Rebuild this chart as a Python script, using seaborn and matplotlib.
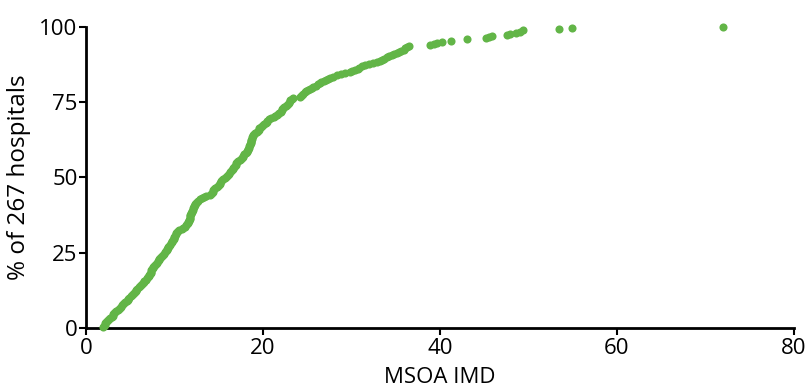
import numpy as np
import pandas as pd
import matplotlib
matplotlib.use("Agg")
import matplotlib.pyplot as plt
import seaborn as sns

# MSOA IMD of each hospital, sorted
imd_values = [
    1.9, 2.0, 2.1, 2.2, 2.3, 2.4, 2.5, 2.6, 2.7, 2.9,
    3.0, 3.1, 3.2, 3.3, 3.4, 3.6, 3.7, 3.8, 3.9, 4.1,
    4.2, 4.3, 4.4, 4.6, 4.7, 4.8, 4.9, 5.1, 5.2, 5.3,
    5.4, 5.5, 5.6, 5.7, 5.8, 6.0, 6.1, 6.2, 6.3, 6.4,
    6.5, 6.6, 6.8, 6.9, 7.0, 7.1, 7.1, 7.2, 7.3, 7.3,
    7.4, 7.5, 7.6, 7.6, 7.7, 7.8, 7.9, 8.0, 8.1, 8.2,
    8.3, 8.4, 8.5, 8.6, 8.7, 8.8, 8.9, 9.0, 9.1, 9.2,
    9.3, 9.3, 9.4, 9.5, 9.6, 9.7, 9.7, 9.8, 9.9, 9.9,
    10.0, 10.1, 10.2, 10.2, 10.3, 10.4, 10.5, 10.8, 11.0, 11.2,
    11.3, 11.4, 11.5, 11.5, 11.6, 11.6, 11.7, 11.7, 11.8, 11.8,
    11.9, 11.9, 12.0, 12.0, 12.1, 12.1, 12.2, 12.2, 12.3, 12.3,
    12.4, 12.5, 12.7, 12.9, 13.1, 13.3, 13.6, 14.0, 14.1, 14.2,
    14.3, 14.4, 14.5, 14.6, 14.8, 14.9, 15.0, 15.1, 15.2, 15.3,
    15.4, 15.5, 15.7, 15.8, 15.9, 16.0, 16.2, 16.3, 16.4, 16.5,
    16.6, 16.6, 16.7, 16.8, 16.9, 17.0, 17.1, 17.2, 17.4, 17.5,
    17.6, 17.7, 17.8, 17.9, 18.1, 18.2, 18.2, 18.3, 18.3, 18.4,
    18.4, 18.5, 18.5, 18.6, 18.6, 18.7, 18.7, 18.8, 18.8, 18.9,
    18.9, 19.0, 19.1, 19.3, 19.4, 19.5, 19.6, 19.8, 19.9, 20.0,
    20.1, 20.3, 20.4, 20.5, 20.7, 20.9, 21.2, 21.4, 21.6, 21.7,
    21.8, 22.0, 22.1, 22.2, 22.3, 22.4, 22.6, 22.7, 22.8, 22.9,
    23.0, 23.1, 23.3, 23.4, 24.2, 24.3, 24.4, 24.5, 24.7, 24.9,
    25.1, 25.3, 25.5, 25.7, 26.0, 26.2, 26.4, 26.6, 26.9, 27.1,
    27.4, 27.6, 27.9, 28.4, 28.8, 29.3, 29.8, 30.1, 30.4, 30.7,
    30.9, 31.2, 31.5, 32.0, 32.4, 32.9, 33.2, 33.5, 33.7, 34.0,
    34.3, 34.6, 34.8, 35.1, 35.4, 35.6, 35.9, 36.1, 36.3, 36.5,
    38.9, 39.3, 39.7, 40.2, 41.2, 43.1, 45.2, 45.5, 45.9, 47.6,
    47.9, 48.6, 49.0, 49.4, 53.4, 54.9, 72.0,
]
n_hospitals = len(imd_values)

x_ticks = [0, 20, 40, 60, 80]
y_ticks = [0, 25, 50, 75, 100]

df = pd.DataFrame({"imd": imd_values})
df["pct"] = np.arange(1, n_hospitals + 1) / n_hospitals * 100

sns.set_style("ticks")
plt.rcParams["font.family"] = ["Open Sans", "DejaVu Sans"]

fig = plt.figure(figsize=(8.09, 3.92), dpi=100)
ax = fig.add_axes([0.1063, 0.1633, 0.875, 0.7678])

sns.scatterplot(data=df, x="imd", y="pct", ax=ax, color="#62b547",
                s=34, linewidth=0, clip_on=False, zorder=3)

ax.set_xlim(0, 80)
ax.set_ylim(0, 100)
ax.set_xticks(x_ticks)
ax.set_yticks(y_ticks)
ax.tick_params(axis="both", labelsize=16, length=5, width=1.5, color="black",
               labelcolor="black")
ax.tick_params(axis="x", pad=2)
ax.tick_params(axis="y", pad=1)
for side in ["left", "bottom"]:
    ax.spines[side].set_linewidth(2)
    ax.spines[side].set_color("black")
sns.despine(ax=ax)

ax.set_xlabel("MSOA IMD", fontsize=16, labelpad=6, color="black")
ax.set_ylabel("% of 267 hospitals", fontsize=17.5, labelpad=6, color="black")

fig.savefig("out.png", dpi=100)
